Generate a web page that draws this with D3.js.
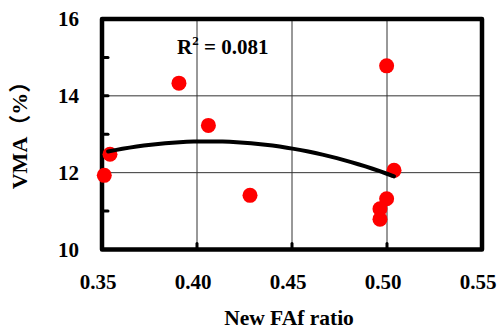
<!doctype html>
<html>
<head>
<meta charset="utf-8">
<style>
  body { margin: 0; background: #fff; }
</style>
<script src="https://d3js.org/d3.v7.min.js"></script>
</head>
<body>
<svg width="498" height="329" class="svg1"></svg>
<script>
  // data
  var fafRatio = [0.3512, 0.3542, 0.3905, 0.4060, 0.4279, 0.4998, 0.5037, 0.4998, 0.4963, 0.4963];
  var vmaValues = [11.93, 12.48, 14.33, 13.23, 11.41, 14.78, 12.06, 11.32, 11.06, 10.79];
  var xTicks = [0.35, 0.40, 0.45, 0.50, 0.55];
  var yTicks = [10, 12, 14, 16];
  var yMinor = [11, 13, 15];
  var rSquared = "0.081";

  var svg = d3.select(".svg1");
  var x = d3.scaleLinear().domain([0.35, 0.55]).range([102, 482]);
  var y = d3.scaleLinear().domain([10, 16]).range([249.5, 19]);
  var serif = "'Liberation Serif'";

  // gridlines
  svg.append("g").selectAll("line").data([12, 14]).enter().append("line")
     .attr("x1", x(0.35)).attr("x2", x(0.55))
     .attr("y1", function(d) { return y(d); }).attr("y2", function(d) { return y(d); })
     .attr("stroke", "#333").attr("stroke-width", 1);
  svg.append("g").selectAll("line").data([0.40, 0.45, 0.50]).enter().append("line")
     .attr("y1", y(10)).attr("y2", y(16))
     .attr("x1", function(d) { return x(d); }).attr("x2", function(d) { return x(d); })
     .attr("stroke", "#333").attr("stroke-width", 1);

  // inner tick marks
  svg.append("g").selectAll("line").data(yMinor.concat([12, 14])).enter().append("line")
     .attr("x1", x(0.35)).attr("x2", x(0.35) + 6)
     .attr("y1", function(d) { return y(d); }).attr("y2", function(d) { return y(d); })
     .attr("stroke", "#000").attr("stroke-width", 3).attr("stroke-linecap", "round");
  svg.append("g").selectAll("line").data([0.40, 0.45, 0.50]).enter().append("line")
     .attr("y1", y(10)).attr("y2", y(10) - 6)
     .attr("x1", function(d) { return x(d); }).attr("x2", function(d) { return x(d); })
     .attr("stroke", "#000").attr("stroke-width", 3).attr("stroke-linecap", "round");

  // frame
  svg.append("rect")
     .attr("x", x(0.35)).attr("y", y(16))
     .attr("width", x(0.55) - x(0.35)).attr("height", y(10) - y(16))
     .attr("fill", "none").attr("stroke", "#000").attr("stroke-width", 4.5)
     .attr("stroke-linejoin", "round");

  // points
  svg.append("g").selectAll("circle").data(fafRatio).enter().append("circle")
     .attr("cx", function(d) { return x(d); })
     .attr("cy", function(d, i) { return y(vmaValues[i]); })
     .attr("r", 7.5)
     .attr("fill", "#ff0000");

  // quadratic least-squares trend from the points
  function quadFit(xs, ys) {
    var n = xs.length, s = [0, 0, 0, 0, 0], t = [0, 0, 0];
    for (var i = 0; i < n; i++) {
      var p = 1;
      for (var k = 0; k < 5; k++) { s[k] += p; if (k < 3) t[k] += p * ys[i]; p *= xs[i]; }
    }
    var A = [[s[0], s[1], s[2], t[0]], [s[1], s[2], s[3], t[1]], [s[2], s[3], s[4], t[2]]];
    for (var c = 0; c < 3; c++) {
      for (var r = c + 1; r < 3; r++) {
        var f = A[r][c] / A[c][c];
        for (var m = c; m < 4; m++) A[r][m] -= f * A[c][m];
      }
    }
    var co = [0, 0, 0];
    for (var r2 = 2; r2 >= 0; r2--) {
      var v = A[r2][3];
      for (var m2 = r2 + 1; m2 < 3; m2++) v -= A[r2][m2] * co[m2];
      co[r2] = v / A[r2][r2];
    }
    return co;
  }
  var co = quadFit(fafRatio, vmaValues);
  var xLo = d3.min(fafRatio) + 0.002, xHi = d3.max(fafRatio);
  var trend = d3.range(0, 41).map(function(i) {
    var xv = xLo + (xHi - xLo) * i / 40;
    return [xv, co[0] + co[1] * xv + co[2] * xv * xv];
  });
  svg.append("path")
     .datum(trend)
     .attr("d", d3.line().x(function(d) { return x(d[0]); }).y(function(d) { return y(d[1]); }))
     .attr("fill", "none").attr("stroke", "#000").attr("stroke-width", 4).attr("stroke-linecap", "round");

  // tick labels
  svg.append("g").selectAll("text").data(yTicks).enter().append("text")
     .attr("x", 79).attr("y", function(d) { return y(d) + 7; })
     .attr("text-anchor", "end").attr("font-size", "21px").attr("font-weight", "bold")
     .style("font-family", serif)
     .text(function(d) { return d; });
  svg.append("g").selectAll("text").data(xTicks).enter().append("text")
     .attr("x", function(d) { return x(d) - 4; }).attr("y", 289)
     .attr("text-anchor", "middle").attr("font-size", "21px").attr("font-weight", "bold")
     .style("font-family", serif)
     .text(function(d) { return d.toFixed(2); });

  // axis titles
  svg.append("text")
     .attr("x", 289).attr("y", 325)
     .attr("text-anchor", "middle").attr("font-size", "21.5px").attr("font-weight", "bold")
     .style("font-family", serif)
     .text("New FAf ratio");
  svg.append("text")
     .attr("transform", "translate(27,130) rotate(-90)")
     .attr("text-anchor", "middle").attr("font-size", "22px").attr("font-weight", "bold")
     .style("font-family", "'Liberation Serif', 'Noto Sans CJK SC'")
     .text("VMA（%）");

  // R squared
  var rt = svg.append("text").attr("x", 177).attr("y", 54)
     .attr("font-size", "21px").attr("font-weight", "bold")
     .style("font-family", serif);
  rt.append("tspan").text("R");
  rt.append("tspan").attr("dy", -9).attr("font-size", "13px").text("2");
  rt.append("tspan").attr("dy", 9).text(" = " + rSquared);
</script>
</body>
</html>
